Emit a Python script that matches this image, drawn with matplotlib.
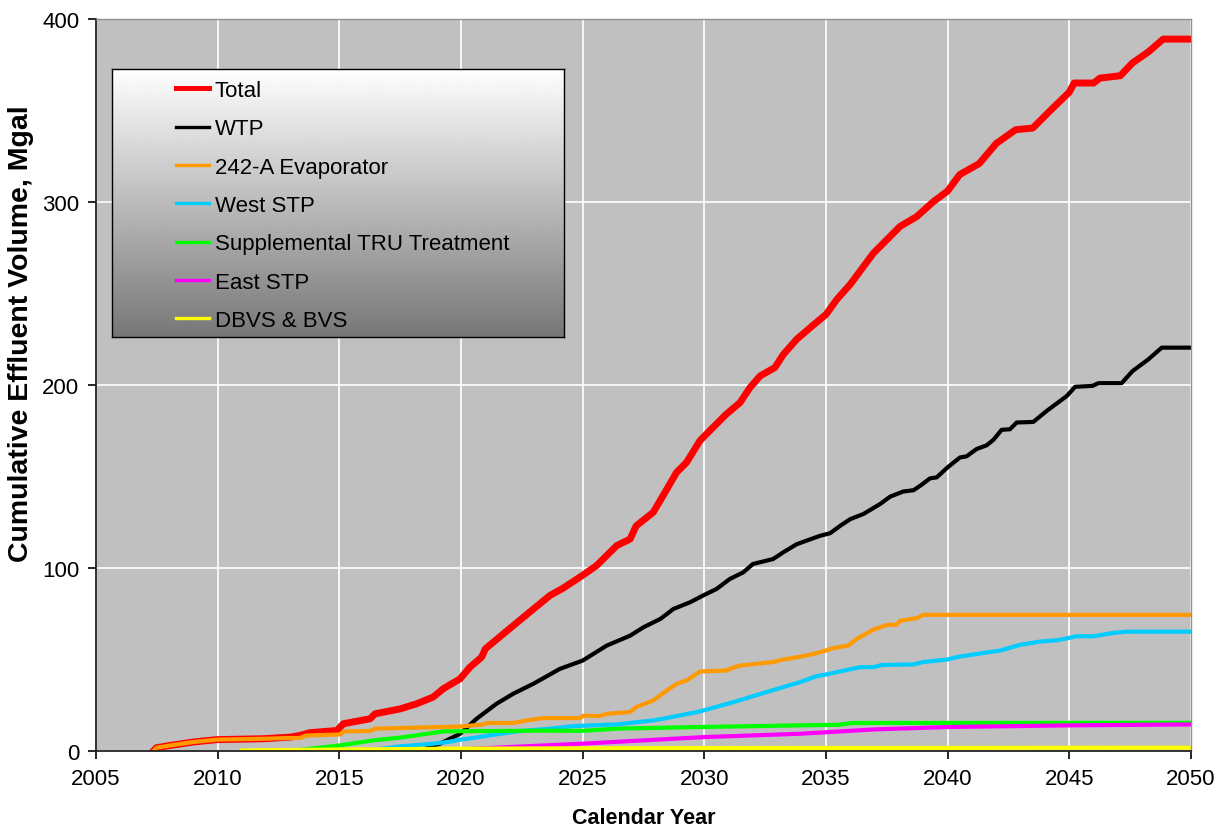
import matplotlib
matplotlib.use('Agg')
import matplotlib.pyplot as plt
import numpy as np

plt.rcParams['font.family'] = ['Liberation Sans', 'DejaVu Sans']

# values (calendar year, cumulative Mgal)
total_yr = [2007.36, 2007.49, 2008.04, 2009.0, 2009.96, 2011.9, 2013.0, 2013.38, 2013.8, 2014.9,
            2015.17, 2016.26, 2016.47, 2017.5, 2018.18, 2018.86, 2019.27, 2019.96, 2020.37, 2020.85,
            2021.0, 2021.74, 2022.15, 2022.97, 2023.66, 2024.2, 2025.0, 2025.57, 2026.4, 2026.95,
            2027.2, 2027.9, 2028.3, 2028.86, 2029.27, 2029.82, 2030.0, 2030.9, 2031.47, 2031.88,
            2032.3, 2032.9, 2033.25, 2033.8, 2034.5, 2035.0, 2035.45, 2036.0, 2036.95, 2038.05,
            2038.73, 2039.4, 2040.0, 2040.5, 2041.3, 2042.0, 2042.8, 2043.5, 2044.3, 2045.0,
            2045.2, 2046.0, 2046.26, 2047.1, 2047.6, 2048.25, 2048.86, 2050.0]
total = [0, 1.8, 3, 4.9, 6.2, 6.7, 7.6, 8.5, 10, 11.2,
         14.9, 17.6, 20.3, 23, 25.8, 29.5, 34, 39.4, 45.8, 51.3,
         55.8, 64, 68.5, 77.5, 85, 89, 96, 101.3, 112.2, 115.8,
         123, 130.4, 139.4, 152.2, 157.7, 169.5, 172, 184, 190.4, 198.6,
         205, 209.5, 216.7, 225, 233, 238.5, 246.8, 255, 272, 286.7,
         292, 300, 306, 315, 321, 332, 339.5, 340.4, 351, 360,
         365, 365, 367.7, 369, 376, 382, 389, 389]

wtp_yr = [2018.0, 2018.32, 2019.14, 2019.96, 2020.64, 2021.46, 2022.15, 2022.97, 2024.07, 2025.0,
          2025.99, 2026.95, 2027.5, 2028.2, 2028.73, 2029.42, 2030.0, 2030.5, 2031.05, 2031.6,
          2032.0, 2032.83, 2033.25, 2033.8, 2034.76, 2035.17, 2035.58, 2036.0, 2036.54, 2037.23,
          2037.64, 2038.18, 2038.6, 2038.87, 2039.28, 2039.55, 2040.0, 2040.51, 2040.78, 2041.19,
          2041.6, 2041.88, 2042.22, 2042.56, 2042.84, 2043.52, 2044.07, 2044.9, 2045.24, 2045.95,
          2046.2, 2047.15, 2047.6, 2048.25, 2048.8, 2050.0]
wtp = [0, 0.3, 4, 9.4, 17.6, 25.8, 31.3, 36.7, 44.9, 49.4,
       57.6, 63, 67.6, 72.2, 77.6, 81.3, 85.3, 88.5, 94, 97.6,
       102.2, 104.9, 108.6, 113, 117.6, 119, 123, 126.7, 129.5, 135,
       139, 141.8, 142.5, 144.9, 149, 149.5, 155, 160.4, 161, 165,
       167, 170, 175.5, 175.8, 179.5, 179.8, 185.8, 194, 199, 199.5,
       201, 201, 207.6, 214, 220.4, 220.4]

evap_yr = [2007.36, 2007.49, 2008.04, 2009.0, 2009.96, 2011.9, 2013.0, 2013.38, 2013.65, 2015.0,
           2015.23, 2016.26, 2016.47, 2019.14, 2020.0, 2020.92, 2021.06, 2022.15, 2022.7, 2023.38,
           2024.9, 2025.03, 2025.7, 2026.0, 2026.95, 2027.2, 2027.9, 2028.45, 2028.86, 2029.27,
           2029.82, 2030.9, 2031.2, 2031.47, 2032.83, 2033.25, 2033.93, 2034.48, 2035.0, 2035.3,
           2035.92, 2036.27, 2036.95, 2037.5, 2037.9, 2038.05, 2038.73, 2039.0, 2050.0]
evap = [0, 1.8, 3, 4.9, 6.2, 6.7, 7.1, 7.1, 8.5, 9,
        10.7, 10.9, 12.2, 13.1, 13.4, 14.5, 15.3, 15.3, 16.7, 18,
        18, 19.3, 19.1, 20.3, 21.3, 24, 27.6, 33, 36.7, 38.5,
        43.4, 44, 45.6, 46.7, 48.6, 50, 51.5, 53, 54.9, 56.2,
        57.6, 61.3, 66.3, 68.9, 69, 71.2, 72.6, 74.4, 74.4]

west_yr = [2015.5, 2016.8, 2017.5, 2018.86, 2019.5, 2019.96, 2020.5, 2021.05, 2022.28, 2023.66,
           2024.6, 2026.4, 2026.95, 2027.9, 2028.3, 2029.82, 2031.2, 2032.56, 2033.93, 2034.62,
           2035.0, 2036.4, 2036.95, 2037.3, 2038.6, 2039.0, 2040.0, 2040.37, 2041.2, 2042.16,
           2042.98, 2043.8, 2044.5, 2045.0, 2045.3, 2046.0, 2046.8, 2047.35, 2050.0]
west = [0, 1.3, 2.5, 4, 5, 6.2, 7.1, 8.3, 10.7, 12.2,
        13.6, 14.5, 15.3, 16.7, 17.6, 21.6, 26.7, 32.2, 37.6, 40.9,
        41.8, 45.8, 45.8, 47, 47.3, 48.6, 50, 51.3, 53, 54.9,
        58, 59.8, 60.5, 61.8, 62.7, 62.7, 64.5, 65.2, 65.2]

supp_yr = [2013.0, 2015.0, 2016.4, 2017.5, 2019.27, 2023.25, 2025.0, 2026.4, 2029.82, 2033.93, 2035.5, 2036.1, 2050.0]
supp = [0, 3, 5.8, 7.3, 10.7, 11.1, 11, 12.2, 13.1, 14, 14.3, 15.3, 15.4]

east_yr = [2019.0, 2025.0, 2030.0, 2033.93, 2037.0, 2040.0, 2045.0, 2050.0]
east = [0.3, 4, 7.6, 9.4, 11.8, 13.1, 14, 14.5]

dbvs_yr = [2011.0, 2015.0, 2020.0, 2030.0, 2050.0]
dbvs = [0.3, 0.8, 1.3, 1.6, 1.8]

fig = plt.figure(figsize=(12.26, 8.29), dpi=100)
ax = fig.add_axes([0.0783, 0.0929, 0.8931, 0.883])
ax.set_facecolor('#C0C0C0')

l1, = ax.plot(total_yr, total, color='#FF0000', lw=5, label='Total')
l2, = ax.plot(wtp_yr, wtp, color='black', lw=3, label='WTP')
l3, = ax.plot(evap_yr, evap, color='#FF9900', lw=3, label='242-A Evaporator')
l4, = ax.plot(west_yr, west, color='#00CCFF', lw=3, label='West STP')
l5, = ax.plot(supp_yr, supp, color='#00FF00', lw=3, label='Supplemental TRU Treatment')
l6, = ax.plot(east_yr, east, color='#FF00FF', lw=3, label='East STP')
l7, = ax.plot(dbvs_yr, dbvs, color='#FFFF00', lw=3, label='DBVS & BVS')

ax.set_xlim(2005, 2050)
ax.set_ylim(0, 400)
ax.set_xticks(range(2005, 2051, 5))
ax.set_yticks(range(0, 401, 100))
ax.grid(True, color='white', lw=1.2)
ax.set_axisbelow(True)
ax.tick_params(direction='out', length=6, width=1.2, labelsize=16, pad=6, color='black')
for s in ['left', 'bottom']:
    ax.spines[s].set_color('#222222')
    ax.spines[s].set_linewidth(1.3)
for s in ['top', 'right']:
    ax.spines[s].set_color('#909090')
    ax.spines[s].set_linewidth(1.0)

ax.set_xlabel('Calendar Year', fontsize=15.5, fontweight='bold', labelpad=13)
ax.set_ylabel('Cumulative Effluent Volume, Mgal', fontsize=20.5, fontweight='bold')
ax.yaxis.set_label_coords(-0.057, 0.572)

# legend box with gradient fill
lax = fig.add_axes([0.0914, 0.5923, 0.3687, 0.3233])
grad = np.linspace(1.0, 0.467, 256).reshape(-1, 1)
lax.imshow(grad, cmap='gray', vmin=0, vmax=1, aspect='auto', extent=[0, 1, 0, 1])
lax.set_xticks([])
lax.set_yticks([])
for s in lax.spines.values():
    s.set_color('black')
    s.set_linewidth(1.0)

leg = lax.legend(handles=[l1, l2, l3, l4, l5, l6, l7], loc='upper left',
                 bbox_to_anchor=(0.117, 1.0), frameon=False, borderpad=0,
                 handlelength=1.5, handletextpad=0.25, labelspacing=0.78, fontsize=16)
for i, ln in enumerate(leg.get_lines()):
    ln.set_linewidth(3.6 if i == 0 else 2.4)

fig.savefig('out.png', dpi=100)
